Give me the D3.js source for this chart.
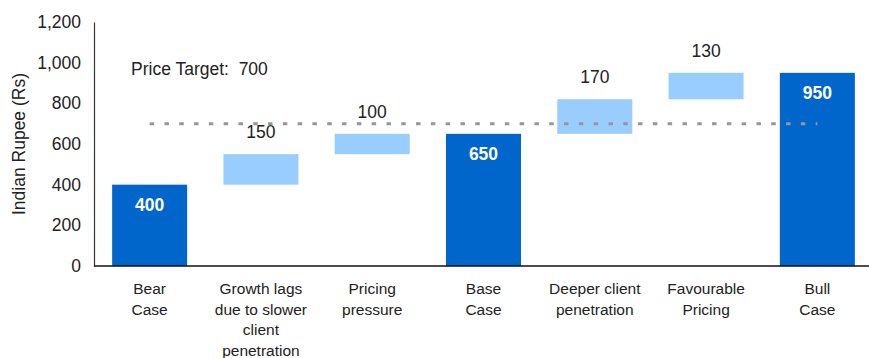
<!DOCTYPE html>
<html>
<head>
<meta charset="utf-8">
<script src="https://cdn.jsdelivr.net/npm/d3@7"></script>
<style>
  body { margin: 0; background: #fff; }
  svg text { font-family: "Liberation Sans", Arial, sans-serif; fill: #222; }
</style>
</head>
<body>
<div id="chart"></div>
<script>
// waterfall data
var categories = ["Bear Case", "Growth lags due to slower client penetration", "Pricing pressure",
    "Base Case", "Deeper client penetration", "Favourable Pricing", "Bull Case"];
var catLines = [["Bear", "Case"], ["Growth lags", "due to slower", "client", "penetration"],
    ["Pricing", "pressure"], ["Base", "Case"], ["Deeper client", "penetration"],
    ["Favourable", "Pricing"], ["Bull", "Case"]];
var values = [400, 150, 100, 650, 170, 130, 950];
var isTotal = [true, false, false, true, false, false, true];
var yTicks = [0, 200, 400, 600, 800, 1000, 1200];
var priceTarget = 700;

var width = 869, height = 358;
var svg = d3.select("#chart").append("svg")
    .attr("width", width)
    .attr("height", height);

var x = d3.scaleBand().domain(categories).range([94, 873]).paddingInner(0.326).paddingOuter(0.163);
var y = d3.scaleLinear().domain([0, 1200]).range([266, 22]);

// compute bases
var bars = [];
var running = 0;
categories.forEach(function (c, i) {
    if (isTotal[i]) {
        bars.push({ cat: c, y0: 0, y1: values[i], v: values[i], total: true });
        running = values[i];
    } else {
        bars.push({ cat: c, y0: running, y1: running + values[i], v: values[i], total: false });
        running += values[i];
    }
});

// y axis
var yAxis = svg.append("g")
    .attr("transform", "translate(94,0)")
    .call(d3.axisLeft(y).tickValues(yTicks).tickSize(0).tickPadding(13).tickFormat(d3.format(",")));
yAxis.select(".domain").attr("stroke", "#333").attr("stroke-width", 1.2);
yAxis.selectAll("text").style("font-size", "17.5px").attr("fill", "#222");

svg.append("text")
    .attr("transform", "translate(25,144) rotate(-90)")
    .attr("text-anchor", "middle")
    .style("font-size", "17.5px")
    .text("Indian Rupee (Rs)");

// bars
svg.selectAll("rect.bar")
    .data(bars)
    .enter().append("rect")
    .attr("class", "bar")
    .attr("x", function (d) { return x(d.cat); })
    .attr("width", x.bandwidth())
    .attr("y", function (d) { return y(d.y1); })
    .attr("height", function (d) { return y(d.y0) - y(d.y1); })
    .attr("fill", function (d) { return d.total ? "#0066CC" : "#99CCFF"; });

// value labels
svg.selectAll("text.val")
    .data(bars)
    .enter().append("text")
    .attr("class", "val")
    .attr("x", function (d) { return x(d.cat) + x.bandwidth() / 2; })
    .attr("y", function (d) { return d.total ? y(d.y1) + 26.5 : y(d.y1) - 16; })
    .attr("text-anchor", "middle")
    .style("font-size", "17.5px")
    .style("font-weight", function (d) { return d.total ? "bold" : "normal"; })
    .style("fill", function (d) { return d.total ? "#fff" : "#222"; })
    .text(function (d) { return d.v; });

// price target line
svg.append("line")
    .attr("x1", x(categories[0]) + x.bandwidth() / 2)
    .attr("x2", x(categories[6]) + x.bandwidth() / 2)
    .attr("y1", y(priceTarget))
    .attr("y2", y(priceTarget))
    .attr("stroke", "#969696")
    .attr("stroke-width", 3)
    .attr("stroke-dasharray", "4.5,10.3");

svg.append("text")
    .attr("x", 131)
    .attr("y", 74.5)
    .style("font-size", "17.5px")
    .style("white-space", "pre")
    .text("Price Target:  " + priceTarget);

// x axis baseline
svg.append("line")
    .attr("x1", 94).attr("x2", 869)
    .attr("y1", y(0)).attr("y2", y(0))
    .attr("stroke", "#111").attr("stroke-width", 1.5);

// category labels
var labels = svg.selectAll("text.cat")
    .data(categories)
    .enter().append("text")
    .attr("class", "cat")
    .attr("text-anchor", "middle")
    .attr("x", function (d) { return x(d) + x.bandwidth() / 2; })
    .attr("y", 294)
    .style("font-size", "15.5px");

labels.each(function (d, i) {
    var t = d3.select(this);
    catLines[i].forEach(function (line, j) {
        t.append("tspan")
            .attr("x", x(d) + x.bandwidth() / 2)
            .attr("dy", j === 0 ? 0 : 20.5)
            .text(line);
    });
});
</script>
</body>
</html>
